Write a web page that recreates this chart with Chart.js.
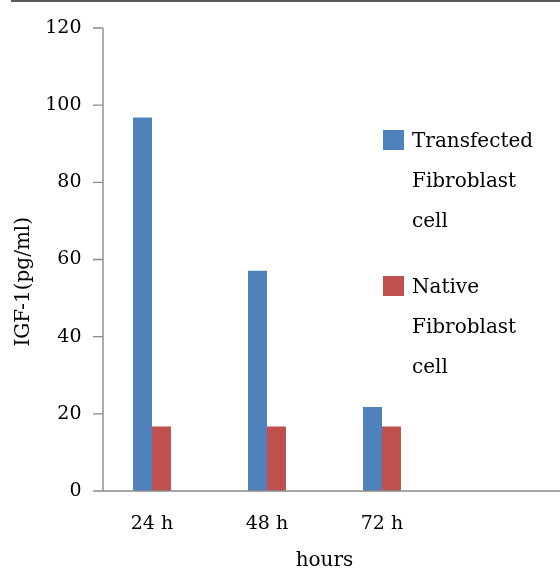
<!DOCTYPE html>
<html>
<head>
<meta charset="utf-8">
<script src="https://cdn.jsdelivr.net/npm/chart.js@4.4.1/dist/chart.umd.min.js"></script>
<style>
  body { margin: 0; background: #fff; }
  #wrap { position: relative; width: 560px; height: 569px; }
  #frame { position: absolute; left: 11px; top: 0; width: 549px; height: 2px; background: #5a5a5a; }
  #legend { position: absolute; left: 383px; top: 120px; font-family: "DejaVu Serif", serif; font-size: 20px; color: #000; }
  .item { display: flex; align-items: flex-start; margin-bottom: 26px; }
  .box { width: 21px; height: 20px; margin-top: 10px; margin-right: 8px; }
  .txt { width: 132px; line-height: 40px; }
</style>
</head>
<body>
<div id="wrap">
  <canvas id="myChart"></canvas>
  <div id="frame"></div>
  <div id="legend"></div>
</div>
<script>
const categories = ['24 h', '48 h', '72 h', ''];
const transfected = [96.8, 57.1, 21.8, null];
const native = [16.7, 16.7, 16.7, null];
const seriesNames = ['Transfected Fibroblast cell', 'Native Fibroblast cell'];
const seriesColors = ['#4f81bd', '#c0504d'];
const yMax = 120;
const yStep = 20;
const yTitle = 'IGF-1(pg/ml)';

// excel style axes: y line sits a bit right of the plot start
const axisLines = {
  id: 'axisLines',
  afterDraw(chart) {
    const { ctx, chartArea, scales: { y } } = chart;
    const x0 = chartArea.left + 8.5;
    const base = y.getPixelForValue(0);
    ctx.save();
    ctx.strokeStyle = '#8a8a8a';
    ctx.lineWidth = 1.4;
    ctx.beginPath();
    ctx.moveTo(x0, y.getPixelForValue(yMax));
    ctx.lineTo(x0, base);
    y.ticks.forEach(t => {
      const py = y.getPixelForValue(t.value);
      ctx.moveTo(x0 - 10, py);
      ctx.lineTo(x0, py);
    });
    ctx.moveTo(x0 - 10, base);
    ctx.lineTo(chart.width, base);
    ctx.stroke();
    ctx.restore();
  }
};

const ctx = document.getElementById('myChart');
const myChart = new Chart(ctx, {
  type: 'bar',
  data: {
    labels: categories,
    datasets: [
      {
        label: seriesNames[0],
        data: transfected,
        backgroundColor: seriesColors[0],
        categoryPercentage: 0.33,
        barPercentage: 1.0,
      },
      {
        label: seriesNames[1],
        data: native,
        backgroundColor: seriesColors[1],
        categoryPercentage: 0.33,
        barPercentage: 1.0,
      }
    ],
  },
  options: {
    responsive: true,
    maintainAspectRatio: false,
    animation: false,
    layout: { padding: { top: 28, right: 5.5, bottom: 0, left: 0 } },
    plugins: {
      legend: { display: false },
      tooltip: { enabled: false },
    },
    scales: {
      x: {
        grid: { display: false },
        border: { display: false },
        ticks: {
          color: '#000',
          padding: 14,
          font: { family: 'DejaVu Serif', size: 19 },
        },
        title: {
          display: true,
          text: 'hours',
          color: '#000',
          padding: { top: 0, bottom: -4 },
          font: { family: 'DejaVu Serif', size: 20 },
        },
        afterFit(scale) { scale.height = 78; },
      },
      y: {
        min: 0,
        max: yMax,
        grid: { display: false },
        border: { display: false },
        ticks: {
          stepSize: yStep,
          color: '#000',
          padding: 5,
          font: { family: 'DejaVu Serif', size: 19 },
        },
        title: {
          display: true,
          // trailing spaces push the title a little below the middle, like the original
          text: yTitle.padEnd(yTitle.length + 7, ' '),
          color: '#000',
          padding: { top: 12, bottom: 0 },
          font: { family: 'DejaVu Serif', size: 20 },
        },
        afterFit(scale) { scale.width = 94.5; },
      },
    },
  },
  plugins: [axisLines],
});

// legend as html so the long names can wrap like the original
const legend = document.getElementById('legend');
myChart.data.datasets.forEach(ds => {
  const item = document.createElement('div');
  item.className = 'item';
  const box = document.createElement('div');
  box.className = 'box';
  box.style.background = ds.backgroundColor;
  const txt = document.createElement('div');
  txt.className = 'txt';
  txt.textContent = ds.label;
  item.appendChild(box);
  item.appendChild(txt);
  legend.appendChild(item);
});
</script>
</body>
</html>
